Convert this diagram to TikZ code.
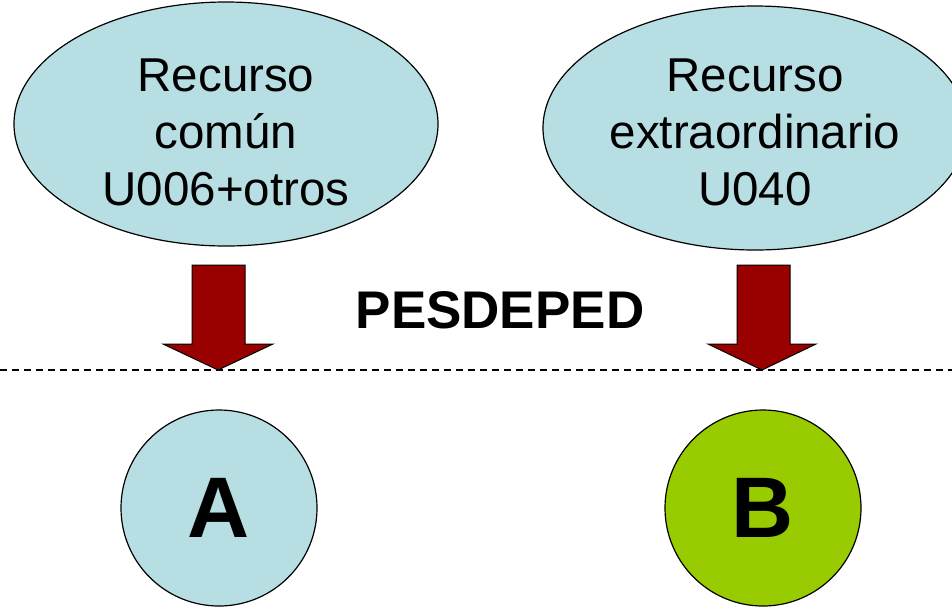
\documentclass[tikz,border=0pt]{standalone}
\usepackage{fontspec}
\setmainfont{Liberation Sans}
\usetikzlibrary{shapes.geometric}

\definecolor{aqua}{HTML}{B7DEE3}
\definecolor{lime}{HTML}{99CC00}
\definecolor{darkred}{HTML}{990000}

\begin{document}
\begin{tikzpicture}[x=1pt,y=-1pt,
    recurso/.style={ellipse, draw, line width=1.2pt, fill=aqua, minimum width=424pt,
        minimum height=244pt, inner sep=0pt},
    rotulo/.style={align=center, inner sep=0pt, font=\fontsize{47.5}{57}\selectfont},
    grupo/.style={circle, draw, line width=1.2pt, minimum size=196pt, inner sep=0pt,
        font=\fontsize{86}{86}\selectfont\bfseries}]
    \useasboundingbox (0,0) rectangle (952,606);
    % Recursos
    \node [recurso] (comun) at (226,124) {};
    \node [rotulo] (comuntxt) at ([yshift=-8pt]comun.center) {Recurso\\común\\U006+otros};
    \node [recurso] (extra) at (755,128) {};
    \node [rotulo] (extratxt) at ([yshift=-4pt]extra.center) {Recurso\\extraordinario\\U040};
    % Flechas
    \filldraw [darkred, draw=black, line width=1pt] (192,265) -- (245,265) -- (245,344) -- (273,344)
        -- (218,370) -- (163,344) -- (192,344) -- cycle;
    \filldraw [darkred, draw=black, line width=1pt] (737,265) -- (790,265) -- (790,344) -- (816,344)
        -- (762,370) -- (708,344) -- (737,344) -- cycle;
    \node [font=\fontsize{53}{53}\selectfont\bfseries] (pesdeped) at (500,310) {PESDEPED};
    % Linea
    \draw [line width=1.2pt, dash pattern=on 7pt off 5pt] (0,370) -- (952,370);
    % Grupos
    \node [grupo, fill=aqua] (a) at (219,508) {A};
    \node [grupo, fill=lime] (b) at (763,508) {B};
\end{tikzpicture}
\end{document}
